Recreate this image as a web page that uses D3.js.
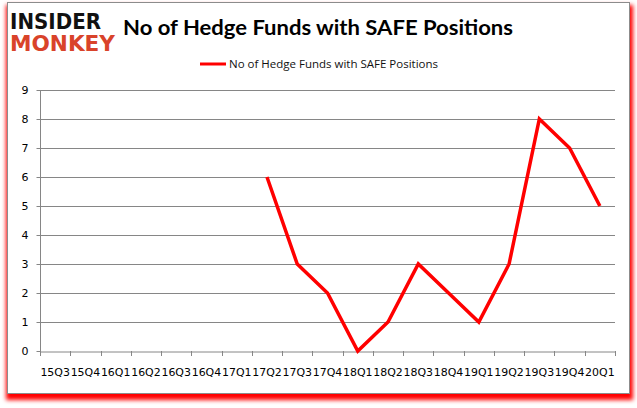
<!DOCTYPE html>
<html><head><meta charset="utf-8">
<script src="https://cdn.jsdelivr.net/npm/d3@7/dist/d3.min.js"></script>
<style>body{margin:0;background:#fff;}svg{display:block;}</style>
</head><body>
<script>
const categories = ["15Q3","15Q4","16Q1","16Q2","16Q3","16Q4","17Q1","17Q2","17Q3","17Q4","18Q1","18Q2","18Q3","18Q4","19Q1","19Q2","19Q3","19Q4","20Q1"];
const values = [null,null,null,null,null,null,null,6,3,2,0,1,3,2,1,3,8,7,5];
const yTicks = [0,1,2,3,4,5,6,7,8,9];
const seriesName = "No of Hedge Funds with SAFE Positions";
const title = "No of Hedge Funds with SAFE Positions";

const W = 637, H = 408;
const svg = d3.select("body").append("svg").attr("width", W).attr("height", H);

const defs = svg.append("defs");
defs.append("filter").attr("id", "blur").attr("x", "-5%").attr("y", "-5%").attr("width", "110%").attr("height", "110%")
  .append("feGaussianBlur").attr("stdDeviation", 2);

// frame with red shadow
svg.append("rect").attr("x", 6).attr("y", 5).attr("width", 627).attr("height", 395).attr("fill", "#ff0000").attr("filter", "url(#blur)");
svg.append("rect").attr("x", 7.5).attr("y", 2.5).attr("width", 622).attr("height", 391).attr("fill", "#fff").attr("stroke", "#8c8c8c").attr("stroke-width", 1);

// logo
svg.append("text").attr("x", 10).attr("y", 29).attr("font-family", "DejaVu Sans").attr("font-weight", "bold")
  .attr("font-size", 21).attr("textLength", 91).attr("lengthAdjust", "spacingAndGlyphs").attr("fill", "#111").text("INSIDER");
svg.append("text").attr("x", 10).attr("y", 51).attr("font-family", "DejaVu Sans").attr("font-weight", "bold")
  .attr("font-size", 21).attr("textLength", 105).attr("lengthAdjust", "spacingAndGlyphs").attr("fill", "#d9432a").text("MONKEY");

svg.append("text").attr("x", 123).attr("y", 35).attr("font-family", "Lato, 'Open Sans', sans-serif").attr("font-weight", "bold")
  .attr("font-size", 21).attr("textLength", 390).attr("lengthAdjust", "spacingAndGlyphs").attr("fill", "#000").text(title);

const m = {left: 40, right: 615, top: 90, bottom: 351};
const x = d3.scaleBand().domain(categories).range([m.left, m.right]);
const y = d3.scaleLinear().domain([0, 9]).range([m.bottom, m.top]);

// gridlines
svg.append("g").selectAll("line").data(yTicks.filter(d => d > 0)).join("line")
  .attr("x1", m.left).attr("x2", m.right).attr("y1", d => Math.round(y(d)) + 0.5).attr("y2", d => Math.round(y(d)) + 0.5)
  .attr("stroke", "#868686").attr("stroke-width", 1);

// y axis
const yAxis = svg.append("g").attr("transform", `translate(${m.left + 0.5},0)`)
  .call(d3.axisLeft(y).tickValues(yTicks).tickSize(4).tickPadding(8).tickFormat(d3.format("d")));
yAxis.select(".domain").attr("stroke", "#868686").attr("d", `M0,${y(9)}V${y(0)}`);
yAxis.selectAll(".tick line").attr("stroke", "#868686");
yAxis.selectAll(".tick").attr("transform", d => `translate(0,${Math.round(y(d)) + 0.5})`);
yAxis.selectAll("text").attr("font-family", "Verdana, 'DejaVu Sans', sans-serif").attr("font-size", 11).attr("fill", "#000");

// x axis
const xAxis = svg.append("g").attr("transform", `translate(0,${m.bottom + 0.5})`)
  .call(d3.axisBottom(x).tickSize(0).tickPadding(17));
xAxis.select(".domain").attr("stroke", "#868686");
xAxis.selectAll("text").attr("font-family", "Verdana, 'DejaVu Sans', sans-serif").attr("font-size", 11)
  .attr("textLength", 29.5).attr("lengthAdjust", "spacingAndGlyphs").attr("fill", "#000");
// tick marks at band boundaries
const bounds = categories.map(c => x(c)).concat([m.right]);
svg.append("g").selectAll("line").data(bounds).join("line")
  .attr("x1", d => Math.round(d) + 0.5).attr("x2", d => Math.round(d) + 0.5)
  .attr("y1", m.bottom).attr("y2", m.bottom + 5).attr("stroke", "#868686");

// line
const pts = categories.map((c, i) => ({c, v: values[i]}));
const line = d3.line().defined(d => d.v != null).x(d => x(d.c) + x.bandwidth() / 2).y(d => y(d.v));
svg.append("path").datum(pts).attr("d", line).attr("fill", "none").attr("stroke", "#ff0000")
  .attr("stroke-width", 3.5).attr("stroke-linejoin", "miter");

// legend
svg.append("line").attr("x1", 200).attr("x2", 226).attr("y1", 64).attr("y2", 64).attr("stroke", "#ff0000").attr("stroke-width", 3);
svg.append("text").attr("x", 229).attr("y", 68).attr("font-family", "'Open Sans', 'DejaVu Sans', sans-serif")
  .attr("font-size", 11).attr("textLength", 209).attr("lengthAdjust", "spacingAndGlyphs").attr("fill", "#111").text(seriesName);
</script>
</body></html>
